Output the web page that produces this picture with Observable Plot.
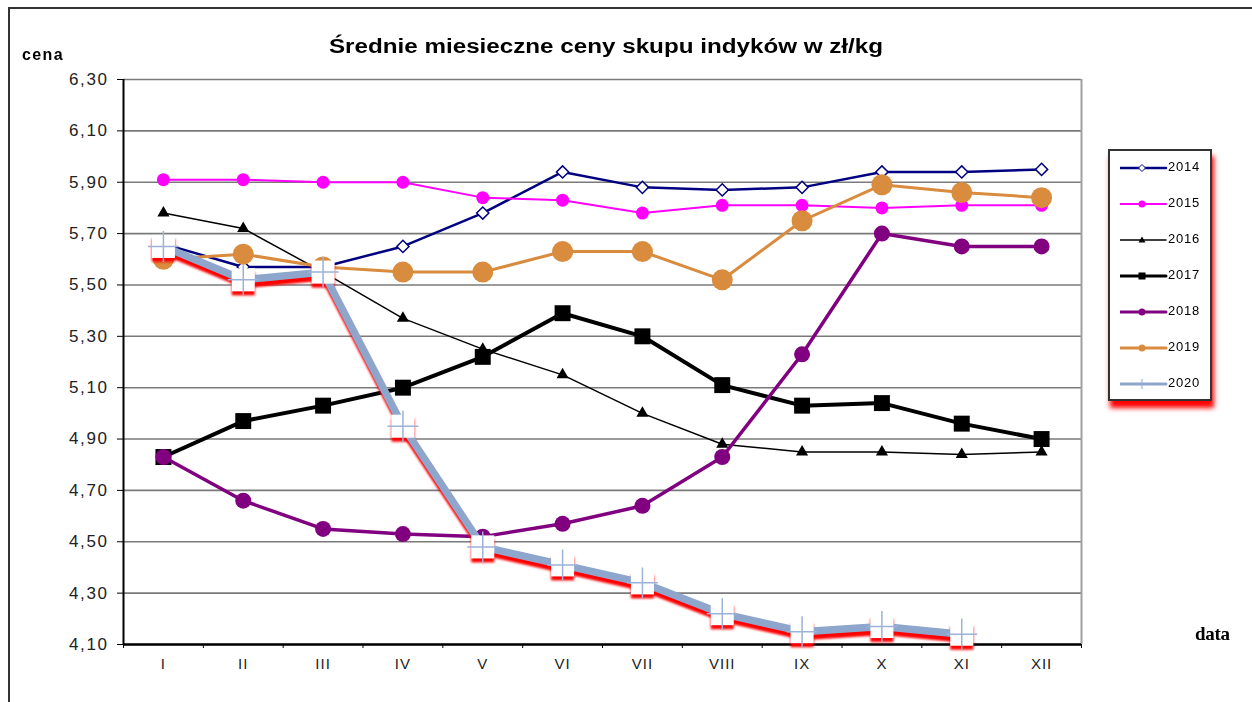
<!DOCTYPE html>
<html>
<head>
<meta charset="utf-8">
<script src="https://cdn.jsdelivr.net/npm/d3@7"></script>
<script src="https://cdn.jsdelivr.net/npm/@observablehq/plot@0.6"></script>
<style>
  html, body { margin: 0; padding: 0; background: #fff; }
  #wrap { position: relative; width: 1252px; height: 702px; overflow: hidden; font-family: Arial, "Liberation Sans", sans-serif; }
  #frame { position: absolute; left: 8px; top: 7px; width: 1300px; height: 760px; border: 2px solid #333; box-sizing: border-box; pointer-events: none; }
  #title { position: absolute; left: 606px; top: 35px; white-space: nowrap; font-weight: bold; font-size: 20px; color: #000; transform: translateX(-50%) scaleX(1.21); }
  #cena { position: absolute; left: 22px; top: 46px; font-weight: bold; font-size: 16px; letter-spacing: 1.4px; color: #000; }
  #data { position: absolute; left: 1195px; top: 623px; font-weight: bold; font-size: 19px; letter-spacing: -0.3px; font-family: "Liberation Serif", serif; color: #000; }
  #legend { position: absolute; left: 1108px; top: 149px; width: 104px; height: 252px; border: 2px solid #333; box-sizing: border-box; background: #fff; box-shadow: 2px 7px 5px #ff0000; }
  .item { position: absolute; left: 10px; height: 14px; }
  .item svg { position: absolute; left: 0; top: 0; }
  .item span { position: absolute; left: 48px; top: -2px; font-size: 13px; color: #000; letter-spacing: 0.8px; }
  #chart { position: absolute; left: 0; top: 0; }
  #chart svg g[aria-label="y-axis tick label"] text { letter-spacing: 1.6px; }
  #chart svg g[aria-label="x-axis tick label"] text { letter-spacing: 1px; }
</style>
</head>
<body>
<div id="wrap">
  <div id="chart"></div>
  <div id="frame"></div>
  <div id="title">Średnie miesieczne ceny skupu indyków w zł/kg</div>
  <div id="cena">cena</div>
  <div id="data">data</div>
  <div id="legend"></div>
</div>
<script>
// ---- data ----
const months = ["I","II","III","IV","V","VI","VII","VIII","IX","X","XI","XII"];
const years = ["2014","2015","2016","2017","2018","2019","2020"];
const y2014 = [5.66,5.57,5.57,5.65,5.78,5.94,5.88,5.87,5.88,5.94,5.94,5.95];
const y2015 = [5.91,5.91,5.90,5.90,5.84,5.83,5.78,5.81,5.81,5.80,5.81,5.81];
const y2016 = [5.78,5.72,5.55,5.37,5.25,5.15,5.00,4.88,4.85,4.85,4.84,4.85];
const y2017 = [4.83,4.97,5.03,5.10,5.22,5.39,5.30,5.11,5.03,5.04,4.96,4.90];
const y2018 = [4.83,4.66,4.55,4.53,4.52,4.57,4.64,4.83,5.23,5.70,5.65,5.65];
const y2019 = [5.60,5.62,5.57,5.55,5.55,5.63,5.63,5.52,5.75,5.89,5.86,5.84];
const y2020 = [5.65,5.52,5.55,4.95,4.48,4.41,4.34,4.22,4.15,4.17,4.14,null];
const yTicks = [4.10,4.30,4.50,4.70,4.90,5.10,5.30,5.50,5.70,5.90,6.10,6.30];

// ---- styles ----
const styles = {
  "2014": {stroke:"#000080", sw:2.5, symbol:"diamond2", r:5.5, fill:"white"},
  "2015": {stroke:"#ff00ff", sw:2, symbol:"circle", r:6.5, fill:"#ff00ff"},
  "2016": {stroke:"#000000", sw:1.5, symbol:"triangle", r:4.5, fill:"#000000"},
  "2017": {stroke:"#000000", sw:4, symbol:"square", r:9, fill:"#000000"},
  "2018": {stroke:"#800080", sw:3.5, symbol:"circle", r:8, fill:"#800080"},
  "2019": {stroke:"#d98b3e", sw:3, symbol:"circle", r:10.5, fill:"#d98b3e"}
};
const seriesValues = {"2014":y2014,"2015":y2015,"2016":y2016,"2017":y2017,"2018":y2018,"2019":y2019,"2020":y2020};
const SHADOW = "#ff0000";

function rows(vals) {
  return months.map((m, i) => ({x: i + 0.5, y: vals[i], m})).filter(d => d.y != null);
}

const marks = [
  Plot.ruleY(yTicks, {stroke:"#7a7a7a", strokeWidth:1.6}),
  Plot.ruleX([12], {stroke:"#a0a0a0", strokeWidth:2}),
  Plot.axisY({ticks: yTicks, tickFormat: d => d.toFixed(2).replace(".", ","), tickSize: 6, tickPadding: 9, fontSize: 17, label: null, stroke:"#000", color:"#222"}),
  Plot.axisX({ticks: d3.range(0, 13), tickSize: 4, tickFormat: () => "", label: null}),
  Plot.axisX({ticks: d3.range(12).map(i => i + 0.5), tickSize: 0, tickPadding: 14, tickFormat: d => months[Math.floor(d)], fontSize: 15, label: null, color:"#222"}),
  Plot.ruleX([0], {stroke:"#000", strokeWidth:2}),
  Plot.ruleY([4.10], {stroke:"#000", strokeWidth:2.5})
];

for (const yr of ["2014","2015","2016","2017","2018","2019"]) {
  const s = styles[yr];
  const data = rows(seriesValues[yr]);
  marks.push(Plot.line(data, {x:"x", y:"y", stroke:s.stroke, strokeWidth:s.sw}));
  marks.push(Plot.dot(data, {x:"x", y:"y", symbol:s.symbol, r:s.r, fill:s.fill, stroke:s.stroke, strokeWidth: yr === "2014" ? 1.5 : 0}));
}

// 2020 with red drop shadow
const d20 = rows(y2020);
marks.push(Plot.line(d20, {x:"x", y:"y", stroke:SHADOW, strokeWidth:7, dx:1, dy:5}));
marks.push(Plot.dot(d20, {x:"x", y:"y", symbol:"square", r:13, fill:SHADOW, dx:0, dy:4}));
marks.push(Plot.line(d20, {x:"x", y:"y", stroke:"#8ea6cc", strokeWidth:7.5}));
marks.push(Plot.dot(d20, {x:"x", y:"y", symbol:"square", r:13, fill:"#ffffff"}));
marks.push(Plot.dot(d20, {x:"x", y:"y", symbol:"plus", r:10, stroke:"#9cb2d8", strokeWidth:1.5}));

const chart = Plot.plot({
  width: 1252,
  height: 702,
  marginLeft: 123,
  marginRight: 171,
  marginTop: 79,
  marginBottom: 58,
  style: {background: "transparent", fontFamily: "Arial, 'Liberation Sans', sans-serif"},
  x: {type: "linear", domain: [0, 12]},
  y: {type: "linear", domain: [4.10, 6.30]},
  marks
});
// soft blur for the red shadow
const ns = "http://www.w3.org/2000/svg";
const defs = document.createElementNS(ns, "defs");
defs.innerHTML = '<filter id="softshadow" filterUnits="userSpaceOnUse" x="0" y="0" width="1252" height="702"><feGaussianBlur stdDeviation="1.2"/></filter>';
chart.insertBefore(defs, chart.firstChild);
chart.querySelectorAll(`g[stroke="${SHADOW}"], g[fill="${SHADOW}"]`).forEach(g => g.setAttribute("filter", "url(#softshadow)"));
document.getElementById("chart").appendChild(chart);

// ---- legend ----
const legend = document.getElementById("legend");
const legendTops = [10, 46, 82, 118, 154, 190, 226];
years.forEach((yr, i) => {
  const div = document.createElement("div");
  div.className = "item";
  div.style.top = (legendTops[i]) + "px";
  let col, sw, marker = "";
  if (yr === "2020") {
    col = "#8ea6cc"; sw = 3;
    marker = `<line x1="22" y1="2" x2="22" y2="12" stroke="#9cb2d8" stroke-width="1.2"/>`;
  } else {
    const s = styles[yr]; col = s.stroke; sw = Math.min(s.sw, 3);
    if (s.symbol === "diamond2") marker = `<path d="M22,3.5L25.5,7L22,10.5L18.5,7Z" fill="white" stroke="${col}" stroke-width="1"/>`;
    else if (s.symbol === "circle") marker = `<circle cx="22" cy="7" r="3.5" fill="${col}"/>`;
    else if (s.symbol === "triangle") marker = `<path d="M22,3.5L25.5,9.5L18.5,9.5Z" fill="${col}"/>`;
    else if (s.symbol === "square") marker = `<rect x="18.5" y="3.5" width="7" height="7" fill="${col}"/>`;
  }
  div.innerHTML = `<svg width="48" height="14"><line x1="0" y1="7" x2="46" y2="7" stroke="${col}" stroke-width="${sw}" stroke-linecap="round"/>${marker}</svg><span>${yr}</span>`;
  legend.appendChild(div);
});
</script>
</body>
</html>
